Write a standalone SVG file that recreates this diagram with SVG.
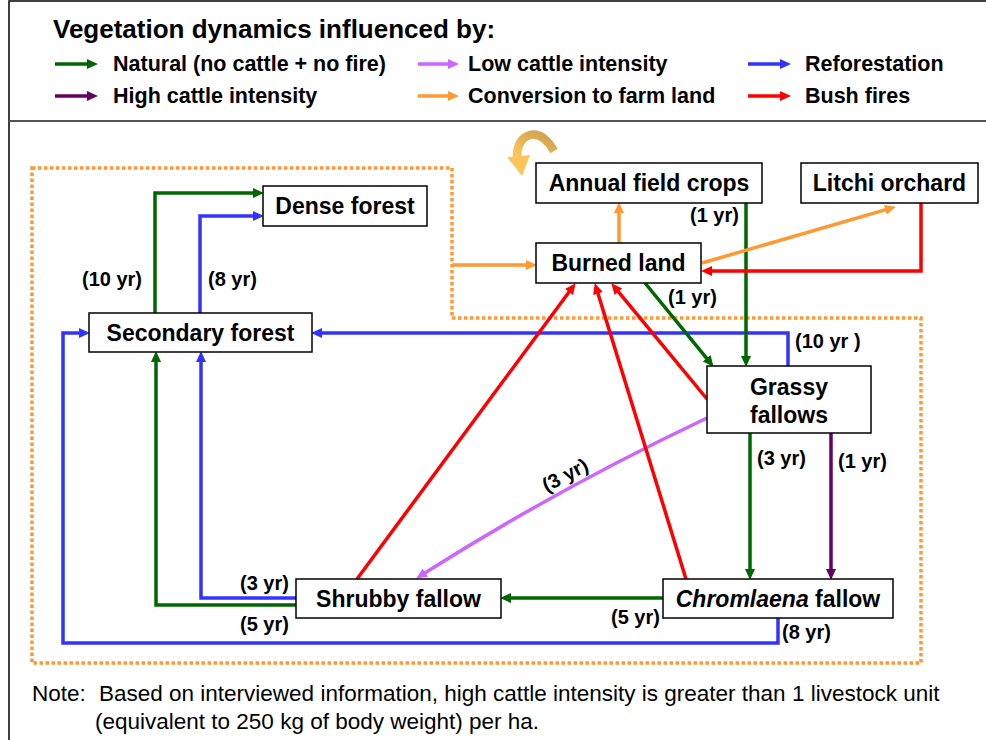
<svg xmlns="http://www.w3.org/2000/svg" width="986" height="740" viewBox="0 0 986 740">
<defs>
<style>
.frame{fill:none;stroke:#000;stroke-width:1.5}
.box{fill:#fff;stroke:#000;stroke-width:1.5}
.nt{font-family:"Liberation Sans",Arial,sans-serif;font-weight:bold;font-size:23px;fill:#000}
.lt{font-family:"Liberation Sans",Arial,sans-serif;font-weight:bold;font-size:20px;fill:#000}
.lg{font-family:"Liberation Sans",Arial,sans-serif;font-weight:bold;font-size:21.5px;fill:#000}
.note{font-family:"Liberation Sans",Arial,sans-serif;font-size:22.5px;fill:#000}
.c{fill:none;stroke-width:3.5}
.g{stroke:#006600}.b{stroke:#3333FF}.r{stroke:#FF0000}.o{stroke:#FF9933}.p{stroke:#660066}.v{stroke:#CC66FF}
</style>
<marker id="mg" markerUnits="userSpaceOnUse" markerWidth="12" markerHeight="12" refX="5" refY="5" orient="auto"><path d="M0,0 L11,5 L0,10 z" fill="#006600"/></marker>
<marker id="mb" markerUnits="userSpaceOnUse" markerWidth="12" markerHeight="12" refX="5" refY="5" orient="auto"><path d="M0,0 L11,5 L0,10 z" fill="#3333FF"/></marker>
<marker id="mr" markerUnits="userSpaceOnUse" markerWidth="12" markerHeight="12" refX="5" refY="5" orient="auto"><path d="M0,0 L11,5 L0,10 z" fill="#FF0000"/></marker>
<marker id="mo" markerUnits="userSpaceOnUse" markerWidth="12" markerHeight="12" refX="5" refY="5" orient="auto"><path d="M0,0 L11,5 L0,10 z" fill="#FF9933"/></marker>
<marker id="mp" markerUnits="userSpaceOnUse" markerWidth="12" markerHeight="12" refX="5" refY="5" orient="auto"><path d="M0,0 L11,5 L0,10 z" fill="#660066"/></marker>
<marker id="mv" markerUnits="userSpaceOnUse" markerWidth="12" markerHeight="12" refX="5" refY="5" orient="auto"><path d="M0,0 L11,5 L0,10 z" fill="#CC66FF"/></marker>
<linearGradient id="cg" x1="1" y1="0" x2="0" y2="1">
<stop offset="0" stop-color="#C8A050"/>
<stop offset="1" stop-color="#FFC55A"/>
</linearGradient>
</defs>

<g id="frame">
<rect class="frame" x="9" y="1" width="1000" height="800"/>
<line x1="9" y1="121" x2="986" y2="121" stroke="#555" stroke-width="2"/>
</g>

<g id="legend">
<text class="nt" x="53" y="38" style="font-size:26px">Vegetation dynamics influenced by:</text>
<line class="c g" x1="55" y1="64" x2="92" y2="64" marker-end="url(#mg)"/>
<text class="lg" x="113" y="71">Natural (no cattle + no fire)</text>
<line class="c v" x1="418" y1="64" x2="453" y2="64" marker-end="url(#mv)"/>
<text class="lg" x="468" y="71">Low cattle intensity</text>
<line class="c b" x1="748" y1="64" x2="785" y2="64" marker-end="url(#mb)"/>
<text class="lg" x="805" y="71">Reforestation</text>
<line class="c p" x1="55" y1="96" x2="92" y2="96" marker-end="url(#mp)"/>
<text class="lg" x="113" y="103">High cattle intensity</text>
<line class="c o" x1="418" y1="96" x2="453" y2="96" marker-end="url(#mo)"/>
<text class="lg" x="468" y="103">Conversion to farm land</text>
<line class="c r" x1="748" y1="96" x2="785" y2="96" marker-end="url(#mr)"/>
<text class="lg" x="805" y="103">Bush fires</text>
</g>

<g id="farm-boundary">
<path d="M32,168 H452 V318 H921 V663 H32 Z" fill="none" stroke="#FF9933" stroke-width="3.5" stroke-dasharray="3.5 2.5"/>
</g>

<g id="connectors">
<path class="c b" d="M778,618 V643 H63 V333 H84" marker-end="url(#mb)"/>
<path class="c b" d="M788,366 V333 H317" marker-end="url(#mb)"/>
<path class="c g" d="M155,313 V193 H258" marker-end="url(#mg)"/>
<path class="c b" d="M200,313 V216 H258" marker-end="url(#mb)"/>
<path class="c g" d="M296,605 H156 V357" marker-end="url(#mg)"/>
<path class="c b" d="M296,598 H201 V357" marker-end="url(#mb)"/>
<path class="c g" d="M746,203 V361" marker-end="url(#mg)"/>
<path class="c g" d="M645,283 L709.8,362.1" marker-end="url(#mg)"/>
<path class="c g" d="M750,433 V574" marker-end="url(#mg)"/>
<path class="c p" d="M831,433 V574" marker-end="url(#mp)"/>
<path class="c g" d="M663,598 H506" marker-end="url(#mg)"/>
<path class="c v" d="M707,418 Q557,489 421.2,575.3" marker-end="url(#mv)"/>
<path class="c r" d="M357,579 L572,288" marker-end="url(#mr)"/>
<path class="c r" d="M686,579 L596.5,288.8" marker-end="url(#mr)"/>
<path class="c r" d="M707,399 L615.2,287.9" marker-end="url(#mr)"/>
<path class="c r" d="M921,203 V271 H707" marker-end="url(#mr)"/>
<path class="c o" d="M619,243 V208" marker-end="url(#mo)"/>
<path class="c o" d="M702,263 L890.2,208.4" marker-end="url(#mo)"/>
<path class="c o" d="M452,265 H531" marker-end="url(#mo)"/>
<path d="M554,151 Q543,132 530,135 Q517,139 517,157" fill="none" stroke="url(#cg)" stroke-width="8.5"/>
<path d="M507,157 L530,155 L522,176 Z" fill="#FFC55A"/>
</g>

<g id="labels">
<text class="lt" x="82" y="286">(10 yr)</text>
<text class="lt" x="208" y="286">(8 yr)</text>
<text class="lt" x="690" y="222">(1 yr)</text>
<text class="lt" x="668" y="304">(1 yr)</text>
<text class="lt" x="795" y="348">(10 yr )</text>
<text class="lt" x="757" y="465">(3 yr)</text>
<text class="lt" x="838" y="468">(1 yr)</text>
<text class="lt" x="565" y="482" text-anchor="middle" transform="rotate(-28 565 475)">(3 yr)</text>
<text class="lt" x="240" y="590">(3 yr)</text>
<text class="lt" x="240" y="631">(5 yr)</text>
<text class="lt" x="611" y="624">(5 yr)</text>
<text class="lt" x="782" y="639">(8 yr)</text>
</g>

<g id="dense-forest"><rect class="box" x="263" y="186" width="164" height="40"/><text class="nt" x="345" y="214" text-anchor="middle">Dense forest</text></g>
<g id="secondary-forest"><rect class="box" x="89" y="313" width="223" height="39"/><text class="nt" x="200.5" y="341" text-anchor="middle">Secondary forest</text></g>
<g id="annual-field-crops"><rect class="box" x="536" y="163" width="226" height="40"/><text class="nt" x="649" y="191" text-anchor="middle">Annual field crops</text></g>
<g id="litchi-orchard"><rect class="box" x="801" y="163" width="177" height="40"/><text class="nt" x="889.5" y="191" text-anchor="middle">Litchi orchard</text></g>
<g id="burned-land"><rect class="box" x="536" y="243" width="165" height="40"/><text class="nt" x="618.5" y="271" text-anchor="middle">Burned land</text></g>
<g id="grassy-fallows"><rect class="box" x="707" y="366" width="164" height="67"/><text class="nt" x="789" y="395" text-anchor="middle">Grassy</text><text class="nt" x="789" y="423" text-anchor="middle">fallows</text></g>
<g id="shrubby-fallow"><rect class="box" x="296" y="579" width="205" height="39"/><text class="nt" x="398.5" y="607" text-anchor="middle">Shrubby fallow</text></g>
<g id="chromlaena-fallow"><rect class="box" x="663" y="579" width="230" height="39"/><text class="nt" x="778" y="607" text-anchor="middle"><tspan font-style="italic">Chromlaena</tspan> fallow</text></g>

<g id="note">
<text class="note" x="32" y="701">Note:</text>
<text class="note" x="99" y="701">Based on interviewed information, high cattle intensity is greater than 1 livestock unit</text>
<text class="note" x="95" y="729">(equivalent to 250 kg of body weight) per ha.</text>
</g>
</svg>
